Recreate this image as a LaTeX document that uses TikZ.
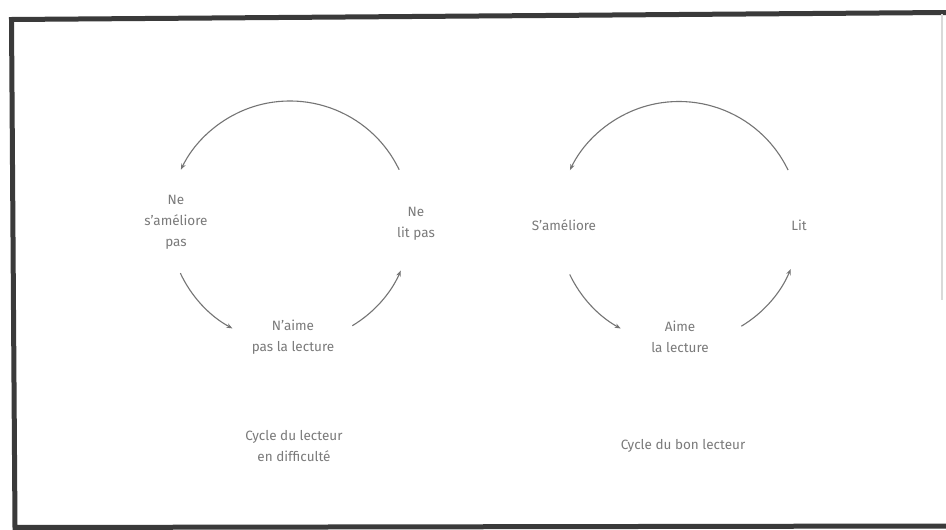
\documentclass[tikz,border=0pt]{standalone}
\usepackage{fontspec}
\setmainfont{Fira Sans}
\usetikzlibrary{arrows.meta,calc}
\definecolor{linegray}{HTML}{747474}
\definecolor{textgray}{HTML}{7A7A7A}
\definecolor{framegray}{HTML}{3A3A3A}
\tikzset{
  cyc/.style={draw=linegray, line width=1.1pt, -{Stealth[length=6pt,width=4.5pt]}},
  lbl/.style={text=textgray, font=\fontsize{13.5}{21}\selectfont, align=center, inner sep=0pt},
  frameline/.style={draw=framegray, line width=5pt},
}
\begin{document}
\begin{tikzpicture}[x=1pt,y=-1pt]
\useasboundingbox (0,0) rectangle (946,530);
\fill[white] (0,0) rectangle (946,530);
% frame
\draw[frameline, line cap=rect] (946,12.5) -- (11.5,19.5) -- (15,527.5) -- (946,526);
\draw[draw=black!15, line width=1.5pt] (942,14) -- (942,300);

% left cycle
\coordinate (CL) at (290,222);
\coordinate (L1) at ($(CL)+(25.6:121pt)$);
\coordinate (L2) at ($(CL)+(205:121pt)$);
\coordinate (L3) at ($(CL)+(301:121pt)$);
\draw[cyc] (L1) arc[start angle=25.6, end angle=154.4, radius=121pt];
\draw[cyc] (L2) arc[start angle=205, end angle=241.6, radius=121pt];
\draw[cyc] (L3) arc[start angle=301, end angle=336.3, radius=121pt];
\node[lbl] (lsa) at (176,222) {Ne\\s'améliore\\pas};
\node[lbl] (llp) at (416,224) {Ne\\lit pas};
\node[lbl] (lna) at (293,337) {N'aime\\pas la lecture};
\node[lbl] (lcap) at (294,446) {Cycle du lecteur\\en difficulté};

% right cycle
\coordinate (CR) at (679,222.5);
\coordinate (R1) at ($(CR)+(25.7:121pt)$);
\coordinate (R2) at ($(CR)+(205.4:121pt)$);
\coordinate (R3) at ($(CR)+(301:121pt)$);
\draw[cyc] (R1) arc[start angle=25.7, end angle=154.3, radius=121pt];
\draw[cyc] (R2) arc[start angle=205.4, end angle=241.2, radius=121pt];
\draw[cyc] (R3) arc[start angle=301, end angle=337.4, radius=121pt];
\node[lbl] (rsa) at (564,225) {S'améliore};
\node[lbl] (rlit) at (799,225) {Lit};
\node[lbl] (ral) at (680,337) {Aime\\la lecture};
\node[lbl] (rcap) at (683,446) {Cycle du bon lecteur};
\end{tikzpicture}
\end{document}
